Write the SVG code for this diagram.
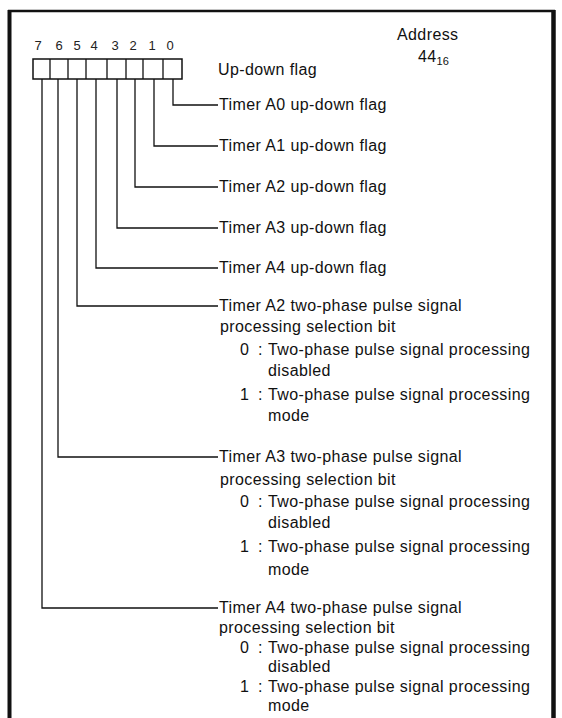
<svg xmlns="http://www.w3.org/2000/svg" width="562" height="718" viewBox="0 0 562 718">
<style>
text{font-family:"Liberation Sans",Arial,sans-serif;font-size:16px;letter-spacing:0.4px;fill:#111}
.d{font-size:13px;letter-spacing:0;fill:#222}
.sub{font-size:11px;letter-spacing:0}
.ln{fill:none;stroke:#111;stroke-width:1.3}
.bx{fill:#fff;stroke:#111;stroke-width:1.5}
</style>
<rect width="562" height="718" fill="#fff"/>
<g id="frame">
<line x1="9.5" y1="10" x2="9.5" y2="718" stroke="#111" stroke-width="4"/>
<line x1="553.5" y1="10" x2="553.5" y2="718" stroke="#111" stroke-width="4.5"/>
<line x1="8" y1="11" x2="555" y2="11" stroke="#111" stroke-width="2.5"/>
</g>
<g id="address">
<text x="397" y="40">Address</text>
<text x="418" y="62">44<tspan class="sub" dy="3">16</tspan></text>
</g>
<g id="register">
<g class="d-labels">
<text class="d" x="38" y="50" text-anchor="middle">7</text>
<text class="d" x="59" y="50" text-anchor="middle">6</text>
<text class="d" x="77" y="50" text-anchor="middle">5</text>
<text class="d" x="94" y="50" text-anchor="middle">4</text>
<text class="d" x="115" y="50" text-anchor="middle">3</text>
<text class="d" x="133" y="50" text-anchor="middle">2</text>
<text class="d" x="152" y="50" text-anchor="middle">1</text>
<text class="d" x="170" y="50" text-anchor="middle">0</text>
</g>
<rect class="bx" x="33" y="59" width="149" height="20"/>
<path class="ln" d="M50,59V79M68,59V79M86,59V79M107,59V79M126,59V79M143,59V79M163,59V79"/>
<text x="218" y="75">Up-down flag</text>
</g>
<g id="connectors">
<path class="ln" d="M173,79V105H218"/>
<path class="ln" d="M154,79V146H218"/>
<path class="ln" d="M135,79V187H218"/>
<path class="ln" d="M117,79V228H218"/>
<path class="ln" d="M96,79V268H218"/>
<path class="ln" d="M77,79V306H218"/>
<path class="ln" d="M58,79V457H218"/>
<path class="ln" d="M42,79V608H218"/>
</g>
<g id="bit0"><text x="219" y="110">Timer A0 up-down flag</text></g>
<g id="bit1"><text x="219" y="151">Timer A1 up-down flag</text></g>
<g id="bit2"><text x="219" y="192">Timer A2 up-down flag</text></g>
<g id="bit3"><text x="219" y="233">Timer A3 up-down flag</text></g>
<g id="bit4"><text x="219" y="273">Timer A4 up-down flag</text></g>
<g id="bit5">
<text x="219" y="311">Timer A2 two-phase pulse signal</text>
<text x="220" y="332">processing selection bit</text>
<text x="240" y="355">0</text><text x="258" y="355">:</text><text x="268" y="355">Two-phase pulse signal processing</text>
<text x="268" y="376">disabled</text>
<text x="240" y="400">1</text><text x="258" y="400">:</text><text x="268" y="400">Two-phase pulse signal processing</text>
<text x="268" y="421">mode</text>
</g>
<g id="bit6">
<text x="219" y="462">Timer A3 two-phase pulse signal</text>
<text x="220" y="485">processing selection bit</text>
<text x="240" y="507">0</text><text x="258" y="507">:</text><text x="268" y="507">Two-phase pulse signal processing</text>
<text x="268" y="528">disabled</text>
<text x="240" y="552">1</text><text x="258" y="552">:</text><text x="268" y="552">Two-phase pulse signal processing</text>
<text x="268" y="575">mode</text>
</g>
<g id="bit7">
<text x="219" y="613">Timer A4 two-phase pulse signal</text>
<text x="219" y="633">processing selection bit</text>
<text x="240" y="653">0</text><text x="258" y="653">:</text><text x="268" y="653">Two-phase pulse signal processing</text>
<text x="268" y="672">disabled</text>
<text x="240" y="692">1</text><text x="258" y="692">:</text><text x="268" y="692">Two-phase pulse signal processing</text>
<text x="268" y="711">mode</text>
</g>
</svg>
